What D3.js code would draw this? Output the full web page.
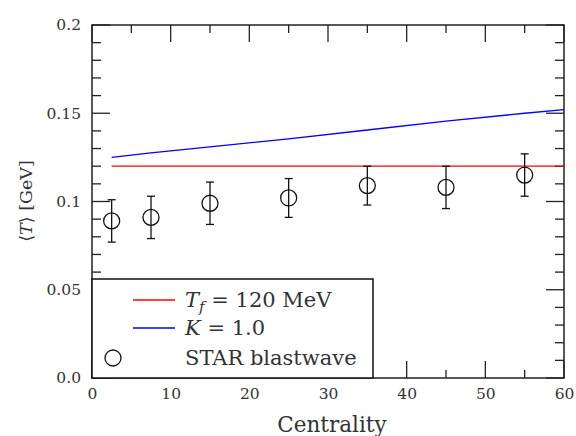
<!DOCTYPE html>
<html>
<head>
<meta charset="utf-8">
<script src="https://cdn.jsdelivr.net/npm/d3@7"></script>
<style>
  body { margin: 0; background: #fff; }
</style>
</head>
<body>
<svg></svg>
<script>
// data
let centrality = [2.5, 7.5, 15, 25, 35, 45, 55]
let starT = [0.089, 0.091, 0.099, 0.102, 0.109, 0.108, 0.115]
let starErr = [0.012, 0.012, 0.012, 0.011, 0.011, 0.012, 0.012]

let tfX = [2.5, 60]
let tfY = [0.12, 0.12]

let kX = [2.5, 7.5, 15, 25, 35, 45, 55, 60]
let kY = [0.125, 0.1275, 0.131, 0.1355, 0.1405, 0.1455, 0.150, 0.152]

let yTicks = [0, 0.05, 0.1, 0.15, 0.2]
let yTickLabels = ['0.0', '0.05', '0.1', '0.15', '0.2']
let xTicks = [0, 10, 20, 30, 40, 50, 60]

let width = 576
let height = 436
let padL = 92, padR = 564, padT = 25, padB = 378
let serif = '"DejaVu Serif", "Liberation Serif", serif'

let svg = d3.select('svg')

// function: drawCanvas
let drawCanvas = () => {
  svg.attr('width', width)
  svg.attr('height', height)
  svg.style('font-family', serif)
}

let xScale = d3.scaleLinear().domain([0, 60]).range([padL, padR])
let yScale = d3.scaleLinear().domain([0, 0.2]).range([padB, padT])

// function: drawAxes
let drawAxes = () => {
  let minorY = d3.range(0, 0.2001, 0.01)
  let minorX = d3.range(0, 60.001, 5)

  // inside ticks on all four sides
  let g = svg.append('g').attr('stroke', '#222').attr('stroke-width', 1.3)
  minorY.forEach((v) => {
    let major = Math.abs(v / 0.05 - Math.round(v / 0.05)) < 1e-6
    let len = major ? 18 : 9
    g.append('line').attr('x1', padL).attr('x2', padL + len).attr('y1', yScale(v)).attr('y2', yScale(v))
    g.append('line').attr('x1', padR).attr('x2', padR - len).attr('y1', yScale(v)).attr('y2', yScale(v))
  })
  minorX.forEach((v) => {
    let len = v % 10 === 0 ? 17 : 8
    g.append('line').attr('y1', padB).attr('y2', padB - len).attr('x1', xScale(v)).attr('x2', xScale(v))
    g.append('line').attr('y1', padT).attr('y2', padT + len).attr('x1', xScale(v)).attr('x2', xScale(v))
  })

  svg.append('rect')
    .attr('x', padL).attr('y', padT)
    .attr('width', padR - padL).attr('height', padB - padT)
    .attr('fill', 'none').attr('stroke', '#222').attr('stroke-width', 1.5)

  // tick labels through d3 axes, with the tick lines hidden
  let yAxis = d3.axisLeft(yScale).tickValues(yTicks)
    .tickFormat((d, i) => yTickLabels[i]).tickSize(0).tickPadding(11)
  let ya = svg.append('g').attr('transform', 'translate(' + padL + ',0)').call(yAxis)
    .attr('font-family', serif).attr('font-size', 15.5)
  ya.select('.domain').remove()
  ya.selectAll('text').attr('fill', '#333')

  let xAxis = d3.axisBottom(xScale).tickValues(xTicks).tickSize(0).tickPadding(10)
  let xa = svg.append('g').attr('transform', 'translate(0,' + padB + ')').call(xAxis)
    .attr('font-family', serif).attr('font-size', 15.5)
  xa.select('.domain').remove()
  xa.selectAll('text').attr('fill', '#333')

  svg.append('text')
    .attr('x', 332).attr('y', 432)
    .attr('text-anchor', 'middle').attr('font-size', 21.5).attr('fill', '#333')
    .text('Centrality')

  let yt = svg.append('text')
    .attr('transform', 'translate(32,201) rotate(-90)')
    .attr('text-anchor', 'middle').attr('font-size', 17.5).attr('fill', '#333')
  yt.append('tspan').text('\u27E8')
  yt.append('tspan').attr('font-style', 'italic').text('T')
  yt.append('tspan').text('\u27E9 [GeV]')
}

// function: drawCurves
let drawCurves = () => {
  let line = d3.line().x((d) => xScale(d[0])).y((d) => yScale(d[1]))
  svg.append('path').datum(d3.zip(tfX, tfY))
    .attr('d', line).attr('fill', 'none').attr('stroke', '#ff0000').attr('stroke-width', 1.3)
  svg.append('path').datum(d3.zip(kX, kY))
    .attr('d', line).attr('fill', 'none').attr('stroke', '#0000ff').attr('stroke-width', 1.3)
}

// function: drawPoints
let drawPoints = () => {
  let pts = svg.append('g').attr('stroke', '#111').attr('stroke-width', 1.3).attr('fill', 'none')
  centrality.forEach((c, i) => {
    let x = xScale(c)
    let y0 = yScale(starT[i] - starErr[i])
    let y1 = yScale(starT[i] + starErr[i])
    pts.append('line').attr('x1', x).attr('x2', x).attr('y1', y0).attr('y2', y1)
    pts.append('line').attr('x1', x - 4).attr('x2', x + 4).attr('y1', y0).attr('y2', y0)
    pts.append('line').attr('x1', x - 4).attr('x2', x + 4).attr('y1', y1).attr('y2', y1)
    pts.append('circle').attr('cx', x).attr('cy', yScale(starT[i])).attr('r', 8).attr('fill', 'none')
  })
}

// function: drawLegend
let drawLegend = () => {
  let lg = svg.append('g').attr('fill', '#333')
  lg.append('rect')
    .attr('x', padL).attr('y', 279).attr('width', 281).attr('height', padB - 279)
    .attr('fill', '#fff').attr('stroke', '#111').attr('stroke-width', 1.5)

  lg.append('line').attr('x1', 133).attr('x2', 175).attr('y1', 300).attr('y2', 300)
    .attr('stroke', '#ff0000').attr('stroke-width', 1.3)
  lg.append('line').attr('x1', 133).attr('x2', 175).attr('y1', 328).attr('y2', 328)
    .attr('stroke', '#0000ff').attr('stroke-width', 1.3)
  lg.append('circle').attr('cx', 113).attr('cy', 358).attr('r', 8)
    .attr('fill', 'none').attr('stroke', '#111').attr('stroke-width', 1.3)

  let t1 = lg.append('text').attr('x', 185).attr('y', 307).attr('font-size', 21)
  t1.append('tspan').attr('font-style', 'italic').text('T')
  t1.append('tspan').attr('font-style', 'italic').attr('font-size', 15).attr('dy', 5).text('f')
  t1.append('tspan').attr('dy', -5).text(' = 120 MeV')

  let t2 = lg.append('text').attr('x', 185).attr('y', 335).attr('font-size', 21)
  t2.append('tspan').attr('font-style', 'italic').text('K')
  t2.append('tspan').text(' = 1.0')

  lg.append('text').attr('x', 185).attr('y', 365).attr('font-size', 21).text('STAR blastwave')
}

drawCanvas()
drawAxes()
drawCurves()
drawPoints()
drawLegend()
</script>
</body>
</html>
